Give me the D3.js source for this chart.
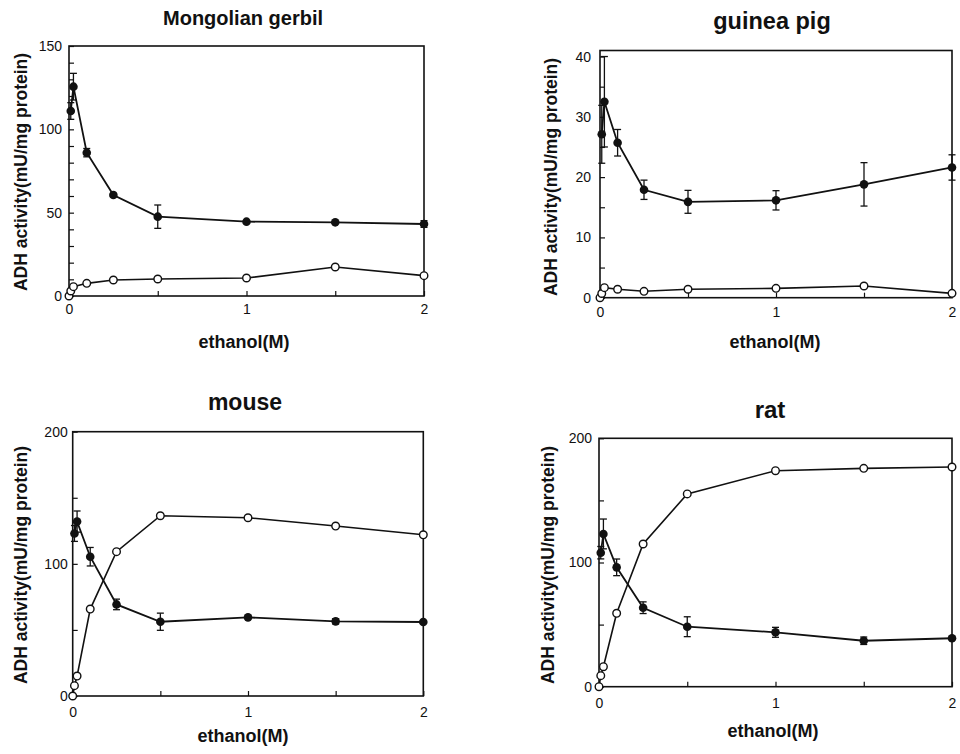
<!DOCTYPE html>
<html lang="en">
<head>
    <meta charset="UTF-8">
    <title>ADH activity vs ethanol</title>
    <script src="https://d3js.org/d3.v7.min.js"></script>
    <style>
        body { margin: 0; background: #fff; }
        text { font-family: "Liberation Sans", Arial, Helvetica, sans-serif; fill: #111; }
    </style>
</head>
<body>
    <svg id="chart"></svg>

    <script>
        const width = 960;
        const height = 754;

        // ethanol concentrations (M)
        const ethanol = [0, 0.01, 0.025, 0.1, 0.25, 0.5, 1, 1.5, 2];
        const xTicks = [0, 0.5, 1, 1.5, 2];
        const xTickLabels = [0, 1, 2];

        // filled circles (with SD), open circles
        const gerbilFilled = [null, 111, 125.6, 86, 60.6, 47.6, 44.6, 44.2, 43.2];
        const gerbilErr = [0, 5, 8, 2.5, 1, 7, 0.5, 0.5, 2];
        const gerbilOpen = [0, 3, 5.6, 7.6, 9.6, 10.2, 10.8, 17.4, 12.2];

        const guineaFilled = [null, 27.1, 32.5, 25.7, 17.9, 15.9, 16.15, 18.8, 21.6];
        const guineaErr = [0, 4.8, 7.5, 2.2, 1.6, 1.9, 1.6, 3.6, 2.1];
        const guineaOpen = [0, 0.7, 1.66, 1.4, 1.06, 1.4, 1.55, 1.94, 0.72];

        const mouseFilled = [null, 123, 132, 105.4, 69.3, 56.2, 59.5, 56.5, 56];
        const mouseErr = [0, 6, 8, 7, 4, 6.5, 1, 2, 1];
        const mouseOpen = [0, 7.8, 15.1, 65.8, 109.2, 136.4, 134.9, 128.6, 122];

        const ratFilled = [null, 107.9, 123, 96.1, 63.6, 48.3, 43.8, 37, 39];
        const ratErr = [0, 5, 12, 6.7, 4.7, 8, 4, 3, 1];
        const ratOpen = [0, 8.9, 16.1, 59.1, 114.9, 155.2, 173.9, 175.8, 176.9];

        const titles = ["Mongolian gerbil", "guinea pig", "mouse", "rat"];
        const yMaxes = [150, 41, 200, 200];
        const yMajor = [[0, 50, 100, 150], [0, 10, 20, 30, 40], [0, 100, 200], [0, 100, 200]];
        const yMinor = [[10, 20, 30, 40, 60, 70, 80, 90, 110, 120, 130, 140],
                        [5, 15, 25, 35], [50, 150], [50, 150]];

        const series = [
            {filled: gerbilFilled, err: gerbilErr, open: gerbilOpen},
            {filled: guineaFilled, err: guineaErr, open: guineaOpen},
            {filled: mouseFilled, err: mouseErr, open: mouseOpen},
            {filled: ratFilled, err: ratErr, open: ratOpen}
        ];

        // panel frames and text placement
        const layout = [
            {l: 69, r: 424, t: 46, b: 296, yPad: 7, xPad: 8,
             title: [243, 25, 20], xlab: [244, 348], ylab: [27, 172]},
            {l: 600, r: 952, t: 50.5, b: 297.7, yPad: 9, xPad: 9,
             title: [772, 29, 23.5], xlab: [775, 348], ylab: [557, 177]},
            {l: 72.7, r: 423.3, t: 431.7, b: 696, yPad: 5, xPad: 11,
             title: [245, 410, 23], xlab: [243, 742], ylab: [27, 565]},
            {l: 599, r: 952, t: 438.3, b: 686.7, yPad: 7, xPad: 11,
             title: [770, 418, 24], xlab: [773, 737], ylab: [554, 565]}
        ];

        const svg = d3.select("#chart")
            .attr("viewBox", [0, 0, width, height])
            .attr("width", width)
            .attr("height", height);

        svg.append("rect").attr("width", width).attr("height", height).attr("fill", "#fff");

        series.forEach((s, i) => {
            const p = layout[i];
            const x = d3.scaleLinear([0, 2], [p.l, p.r]);
            const y = d3.scaleLinear([0, yMaxes[i]], [p.b, p.t]);
            const g = svg.append("g");

            // y axis, ticks pointing inward
            g.append("g")
                .attr("transform", `translate(${p.l},0)`)
                .call(d3.axisLeft(y).tickValues(yMajor[i]).tickSize(-5).tickPadding(p.yPad))
                .call(a => a.select(".domain").remove())
                .call(a => a.selectAll("line").attr("stroke", "#111").attr("stroke-width", 1.2))
                .call(a => a.selectAll("text").attr("font-size", 14).attr("font-family", null));
            g.append("g")
                .attr("transform", `translate(${p.l},0)`)
                .call(d3.axisLeft(y).tickValues(yMinor[i]).tickSize(-5).tickFormat(""))
                .call(a => a.select(".domain").remove())
                .call(a => a.selectAll("line").attr("stroke", "#111").attr("stroke-width", 1.2));

            // x axis
            g.append("g")
                .attr("transform", `translate(0,${p.b})`)
                .call(d3.axisBottom(x).tickValues(xTicks).tickSize(-5).tickPadding(p.xPad)
                    .tickFormat(d => xTickLabels.includes(d) ? d : ""))
                .call(a => a.select(".domain").remove())
                .call(a => a.selectAll("line").attr("stroke", "#111").attr("stroke-width", 1.2))
                .call(a => a.selectAll("text").attr("font-size", 14).attr("font-family", null));

            // frame
            g.append("rect")
                .attr("x", p.l).attr("y", p.t)
                .attr("width", p.r - p.l).attr("height", p.b - p.t)
                .attr("fill", "none").attr("stroke", "#111").attr("stroke-width", 1.6);

            const filledPts = ethanol.map((c, k) => ({c, v: s.filled[k], e: s.err[k]}))
                .filter(d => d.v !== null);
            const openPts = ethanol.map((c, k) => ({c, v: s.open[k]}));

            const line = d3.line().x(d => x(d.c)).y(d => y(d.v));

            g.append("path").datum(openPts)
                .attr("d", line).attr("fill", "none")
                .attr("stroke", "#111").attr("stroke-width", 1.6);
            g.append("path").datum(filledPts)
                .attr("d", line).attr("fill", "none")
                .attr("stroke", "#111").attr("stroke-width", 1.8);

            // error bars
            const bars = g.append("g").attr("stroke", "#111").attr("stroke-width", 1.3)
                .selectAll("g").data(filledPts.filter(d => d.e > 0)).join("g");
            bars.append("line")
                .attr("x1", d => x(d.c)).attr("x2", d => x(d.c))
                .attr("y1", d => y(d.v - d.e)).attr("y2", d => y(d.v + d.e));
            bars.append("line")
                .attr("x1", d => x(d.c) - 3.5).attr("x2", d => x(d.c) + 3.5)
                .attr("y1", d => y(d.v + d.e)).attr("y2", d => y(d.v + d.e));
            bars.append("line")
                .attr("x1", d => x(d.c) - 3.5).attr("x2", d => x(d.c) + 3.5)
                .attr("y1", d => y(d.v - d.e)).attr("y2", d => y(d.v - d.e));

            g.append("g").selectAll("circle").data(openPts).join("circle")
                .attr("cx", d => x(d.c)).attr("cy", d => y(d.v)).attr("r", 3.8)
                .attr("fill", "#fff").attr("stroke", "#111").attr("stroke-width", 1.4);
            g.append("g").selectAll("circle").data(filledPts).join("circle")
                .attr("cx", d => x(d.c)).attr("cy", d => y(d.v)).attr("r", 4.3)
                .attr("fill", "#111");

            // titles and axis labels
            svg.append("text")
                .attr("x", p.title[0]).attr("y", p.title[1])
                .attr("text-anchor", "middle").attr("font-weight", "bold")
                .attr("font-size", p.title[2])
                .text(titles[i]);
            svg.append("text")
                .attr("x", p.xlab[0]).attr("y", p.xlab[1])
                .attr("text-anchor", "middle").attr("font-weight", "bold")
                .attr("font-size", 18)
                .text("ethanol(M)");
            svg.append("text")
                .attr("transform", `translate(${p.ylab[0]},${p.ylab[1]}) rotate(-90)`)
                .attr("text-anchor", "middle").attr("font-weight", "bold")
                .attr("font-size", 17.5)
                .text("ADH activity(mU/mg protein)");
        });
    </script>
</body>
</html>
